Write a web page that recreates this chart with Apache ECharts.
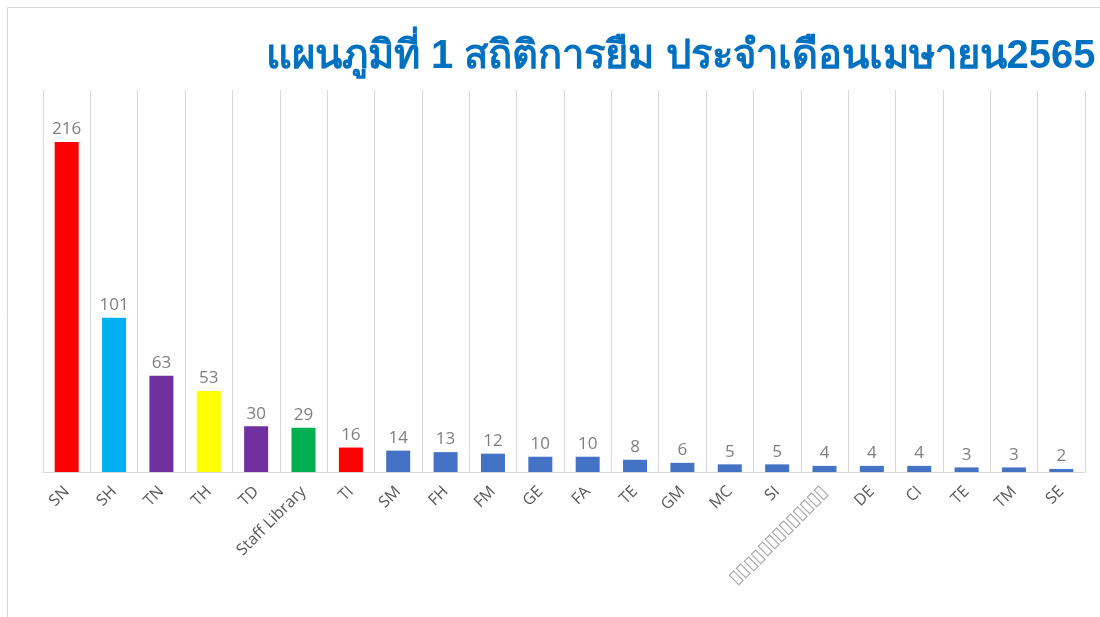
<!DOCTYPE html>
<html>
<head>
<meta charset="utf-8">
<script src="https://cdn.jsdelivr.net/npm/echarts@6/dist/echarts.min.js"></script>
<style>
  html, body { margin: 0; padding: 0; background: #fff; }
  #chart { width: 1100px; height: 617px; }
</style>
</head>
<body>
<div id="chart"></div>
<script>
// ข้อมูลจากภาพ
var titleText = 'แผนภูมิที่ 1 สถิติการยืม ประจำเดือนเมษายน2565'
var categories = ['SN', 'SH', 'TN', 'TH', 'TD', 'Staff Library', 'TI', 'SM', 'FH', 'FM', 'GE', 'FA', 'TE', 'GM', 'MC', 'SI', '▯▯▯▯▯▯▯▯▯▯▯▯▯', 'DE', 'CI', 'TE', 'TM', 'SE']
var counts = [216, 101, 63, 53, 30, 29, 16, 14, 13, 12, 10, 10, 8, 6, 5, 5, 4, 4, 4, 3, 3, 2]
var barColors = ['#FF0000', '#00B0F0', '#7030A0', '#FFFF00', '#7030A0', '#00B050', '#FF0000']
var defaultColor = '#4472C4'

var myChart = echarts.init(document.getElementById('chart'))
myChart.setOption({
  animation: false,
  title: {
    text: titleText,
    left: 261,
    top: 32,
    textStyle: {
      color: '#0070C0',
      fontWeight: 'bold',
      fontSize: 40,
      fontFamily: 'sans-serif'
    }
  },
  graphic: [{
    type: 'rect',
    shape: { x: 7.5, y: 7.5, width: 1200, height: 1200 },
    style: { fill: 'none', stroke: '#d9d9d9', lineWidth: 1 },
    silent: true
  }],
  grid: {
    left: 43,
    right: 15,
    top: 90,
    bottom: 145
  },
  xAxis: {
    type: 'category',
    data: categories,
    axisTick: { show: false },
    axisLine: { lineStyle: { color: '#d9d9d9', width: 1 } },
    splitLine: { show: true, lineStyle: { color: '#d9d9d9', width: 1 } },
    axisLabel: {
      interval: 0,
      rotate: 45,
      margin: 17,
      color: '#595959',
      fontSize: 16,
      fontFamily: 'Open Sans, sans-serif',
      formatter: function (v) {
        return v.charAt(0) === '▯' ? '{box|' + v + '}' : v
      },
      rich: {
        box: { fontSize: 19, color: '#a6a6a6' }
      }
    }
  },
  yAxis: {
    type: 'value',
    min: 0,
    max: 250,
    show: false,
    splitLine: { show: false }
  },
  series: [{
    type: 'bar',
    barWidth: 24,
    data: counts.map(function (v, i) {
      return { value: v, itemStyle: { color: barColors[i] || defaultColor } }
    }),
    label: {
      show: true,
      position: 'top',
      distance: 4,
      color: '#7f7f7f',
      fontSize: 17,
      fontFamily: 'Open Sans, sans-serif'
    }
  }]
})
</script>
</body>
</html>
